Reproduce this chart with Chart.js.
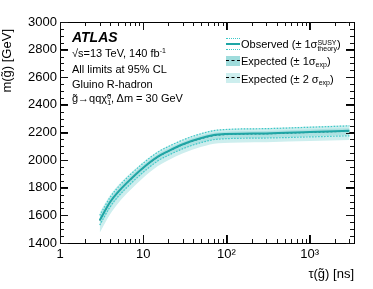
<!DOCTYPE html>
<html>
<head>
<meta charset="utf-8">
<script src="https://cdn.jsdelivr.net/npm/chart.js@4.4.1/dist/chart.umd.min.js"></script>
<style>
  body { margin: 0; background: #fff; }
  #wrap { position: relative; width: 373px; height: 289px; font-family: "Liberation Sans", Arial, Helvetica, sans-serif; color: #000; }
  canvas { position: absolute; left: 0; top: 0; z-index: 0; }
  .txt { position: absolute; white-space: nowrap; font-size: 11px; line-height: 11px; z-index: 2; }
  .ss { display: inline-block; vertical-align: -3px; font-size: 7px; line-height: 6px; text-align: left; }
  .ss span { display: block; }
  sup { font-size: 7px; line-height: 0; vertical-align: 4px; }
  sub { font-size: 7px; line-height: 0; vertical-align: -2px; }
  .sw { position: absolute; left: 226px; width: 14px; z-index: 2; }
  .tk { position: absolute; background: #111; z-index: 3; }
</style>
</head>
<body>
<div id="wrap">
  <canvas id="grafico" width="373" height="289"></canvas>

  <div class="txt" style="left:72px;top:30px;font-size:14px;line-height:14px;font-weight:bold;font-style:italic;">ATLAS</div>
  <div class="txt" style="left:72px;top:48px;">√s=13 TeV, 140 fb<sup>-1</sup></div>
  <div class="txt" style="left:72px;top:63.5px;">All limits at 95% CL</div>
  <div class="txt" style="left:72px;top:78.5px;">Gluino R-hadron</div>
  <div class="txt" style="left:72px;top:92.5px;">g̃→qqχ̃<span class="ss"><span>0</span><span>1</span></span>, Δm = 30 GeV</div>

  <div class="sw" style="top:38px;height:12px;border-top:1px dotted #3cc8c8;border-bottom:1px dotted #3cc8c8;box-sizing:border-box;"></div>
  <div class="sw" style="top:42.5px;height:2px;background:#1fa5a5;"></div>
  <div class="sw" style="top:55.5px;height:10px;background:#9fdcdc;"></div>
  <div class="sw" style="top:60px;height:0;border-top:1px dashed #000;"></div>
  <div class="sw" style="top:72.5px;height:10px;background:#cdeeee;"></div>
  <div class="sw" style="top:77px;height:0;border-top:1px dashed #000;"></div>

  <div class="txt" style="left:241px;top:38.5px;">Observed (± 1σ<span class="ss"><span>SUSY</span><span>theory</span></span>)</div>
  <div class="txt" style="left:241px;top:55.7px;">Expected (± 1σ<sub>exp</sub>)</div>
  <div class="txt" style="left:241px;top:74px;">Expected (± 2 σ<sub>exp</sub>)</div>

  <div class="txt" style="left:-43px;top:72px;width:100px;height:14px;font-size:13px;line-height:14px;text-align:right;transform:rotate(-90deg);">m(g̃) [GeV]</div>
  <div class="txt" style="left:254px;top:267px;width:100px;font-size:13px;line-height:13px;text-align:right;">τ(g̃) [ns]</div>
</div>

<script>
// lifetime points [ns]
const tau = [3, 4, 5, 7, 10, 15, 20, 30, 50, 80, 300, 1000, 3000];

// mass limits [GeV]
const observado = [1565, 1697, 1770, 1860, 1945, 2025, 2065, 2115, 2160, 2185, 2193, 2203, 2212];
const obsArriba = [1600, 1730, 1805, 1895, 1978, 2058, 2098, 2146, 2192, 2218, 2228, 2238, 2248];
const obsAbajo = [1530, 1662, 1737, 1827, 1912, 1995, 2035, 2083, 2128, 2152, 2160, 2168, 2176];
const esperado = [1562, 1693, 1767, 1857, 1942, 2022, 2062, 2111, 2156, 2181, 2190, 2200, 2209];
const exp1Arriba = [1595, 1722, 1795, 1883, 1966, 2045, 2084, 2133, 2178, 2202, 2211, 2221, 2230];
const exp1Abajo = [1520, 1650, 1727, 1820, 1907, 1990, 2031, 2080, 2126, 2152, 2161, 2171, 2180];
const exp2Arriba = [1620, 1745, 1818, 1905, 1987, 2065, 2104, 2152, 2197, 2222, 2232, 2243, 2252];
const exp2Abajo = [1475, 1608, 1688, 1783, 1872, 1957, 2000, 2050, 2096, 2122, 2130, 2138, 2146];

// ticks
const xMayores = [1, 10, 100, 1000];
const xEtiquetas = ["1", "10", "10²", "10³"];
const xMenores = [2, 3, 4, 5, 6, 7, 8, 9, 20, 30, 40, 50, 60, 70, 80, 90,
  200, 300, 400, 500, 600, 700, 800, 900, 2000, 3000];
const xMin = 1, xMax = 3400;
const yMin = 1400, yMax = 3000, yPaso = 200, yPasoMenor = 50;

const fuente = { family: "'Liberation Sans', Arial, sans-serif", size: 13 };

function puntos(arr) {
  return tau.map((t, i) => ({ x: t, y: arr[i] }));
}

function linea(data, extra) {
  return Object.assign({
    data: puntos(data),
    pointRadius: 0,
    borderWidth: 0,
    fill: false,
    cubicInterpolationMode: "monotone"
  }, extra);
}

function ejeX(pos, conEtiquetas) {
  return {
    type: "logarithmic",
    position: pos,
    min: xMin,
    max: xMax,
    grid: { display: true, drawTicks: true, drawOnChartArea: false, tickLength: -8, tickColor: "#000", tickWidth: 1 },
    border: { display: true, color: "#000", width: 1 },
    afterBuildTicks: s => { s.ticks = xMayores.map(v => ({ value: v })); },
    afterFit: s => { s.height = conEtiquetas ? 46 : 0; },
    ticks: {
      display: conEtiquetas,
      autoSkip: false,
      maxRotation: 0,
      padding: 12,
      color: "#000",
      font: fuente,
      callback: v => xEtiquetas[xMayores.indexOf(v)] || ""
    }
  };
}

function ejeY(pos, conEtiquetas) {
  return {
    position: pos,
    min: yMin,
    max: yMax,
    grid: { display: true, drawTicks: true, drawOnChartArea: false, tickLength: -8, tickColor: "#000", tickWidth: 1 },
    border: { display: true, color: "#000", width: 1 },
    afterFit: s => { s.width = conEtiquetas ? 60 : 0; },
    ticks: {
      display: conEtiquetas,
      stepSize: yPaso,
      autoSkip: false,
      padding: 11,
      color: "#000",
      font: fuente,
      callback: v => String(v)
    }
  };
}

const lienzo = document.getElementById("grafico").getContext("2d");
window.miGrafico = new Chart(lienzo, {
  type: "line",
  data: {
    datasets: [
      linea(exp2Arriba, { fill: 1, backgroundColor: "#cdeeee", order: 6 }),
      linea(exp2Abajo, { order: 6 }),
      linea(exp1Arriba, { fill: 3, backgroundColor: "#aee2e2", order: 5 }),
      linea(exp1Abajo, { order: 5 }),
      linea(obsArriba, { borderWidth: 1.2, borderColor: "#3cc8c8", borderDash: [1.5, 1.5], order: 3 }),
      linea(obsAbajo, { borderWidth: 1.2, borderColor: "#3cc8c8", borderDash: [1.5, 1.5], order: 3 }),
      linea(esperado, { borderWidth: 1, borderColor: "#0d7a7a", borderDash: [2, 2], order: 2 }),
      linea(observado, { borderWidth: 2, borderColor: "#1fa5a5", order: 1 })
    ]
  },
  options: {
    responsive: false,
    animation: false,
    devicePixelRatio: 1,
    layout: { padding: { top: 22, right: 19, left: 0, bottom: 0 } },
    plugins: { legend: { display: false }, tooltip: { enabled: false } },
    scales: {
      x: ejeX("bottom", true),
      xArriba: ejeX("top", false),
      y: ejeY("left", true),
      yDerecha: ejeY("right", false)
    }
  }
});

// minor and major ticks pointing inward, placed with the chart's own scales
function marca(x, y, w, h) {
  const d = document.createElement("div");
  d.className = "tk";
  d.style.cssText = "left:" + x + "px;top:" + y + "px;width:" + w + "px;height:" + h + "px;";
  document.getElementById("wrap").appendChild(d);
}

function dibujarMarcas() {
  const a = miGrafico.chartArea;
  const xs = miGrafico.scales.x, ys = miGrafico.scales.y;
  const izq = Math.round(a.left), der = Math.round(a.right);
  const arr = Math.round(a.top), abj = Math.round(a.bottom);
  xMayores.concat(xMenores).forEach(v => {
    const px = Math.round(xs.getPixelForValue(v));
    const largo = xMayores.includes(v) ? 8 : 4;
    marca(px, abj - largo, 1, largo);
    marca(px, arr, 1, largo);
  });
  for (let v = yMin; v <= yMax; v += yPasoMenor) {
    const py = Math.round(ys.getPixelForValue(v));
    const largo = v % yPaso === 0 ? 8 : 4;
    marca(izq, py, largo, 1);
    marca(der - largo, py, largo, 1);
  }
}

dibujarMarcas();
</script>
</body>
</html>
